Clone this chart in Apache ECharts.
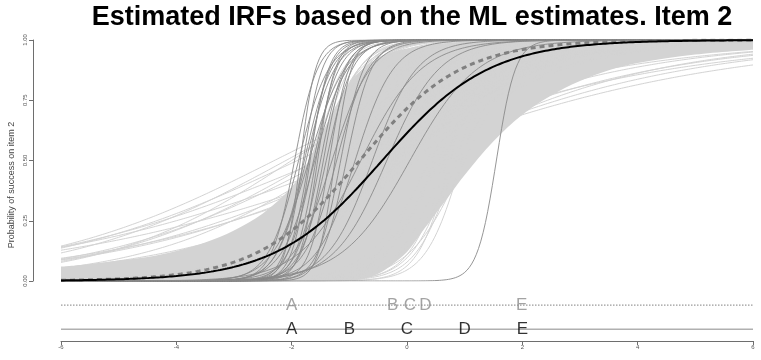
<!DOCTYPE html>
<html>
<head>
<meta charset="utf-8">
<script src="https://cdn.jsdelivr.net/npm/echarts@6/dist/echarts.min.js"></script>
<style>
  html, body { margin: 0; padding: 0; background: #ffffff; }
  #chart { width: 761px; height: 360px; }
</style>
</head>
<body>
<div id="chart"></div>
<script>
// ---- data -------------------------------------------------------------
const thetaTicks = [-6, -4, -2, 0, 2, 4, 6];
const probTicks = [0, 0.25, 0.5, 0.75, 1];

// 2PL item parameters (discrimination a, location b) of the resampled IRFs
const lightSlopes = [
  1.12,0.94,1.35,0.88,1.21,1.05,0.79,1.48,1.02,0.91,
  1.27,1.14,0.85,1.62,0.97,1.09,1.31,0.76,1.18,1.41,
  0.93,1.06,1.24,0.82,1.55,1.01,0.89,1.37,1.16,0.99,
  1.72,0.87,1.11,1.29,0.95,1.44,0.81,1.07,1.20,1.33,
  0.92,1.58,1.03,0.86,1.26,1.15,0.98,1.39,0.78,1.10,
  1.22,0.90,1.47,1.04,0.84,1.30,1.13,0.96,1.66,1.08,
  0.88,1.19,1.36,0.80,1.00,1.25,1.52,0.94,1.12,0.83,
  1.43,1.06,0.91,1.28,1.17,0.75,1.34,1.02,1.60,0.97,
  1.09,1.23,0.86,1.40,1.14,0.92,1.31,1.05,0.79,1.50,
  1.18,0.89,1.27,1.01,1.38,0.95,1.11,1.69,0.84,1.21,
  2.2,2.8,3.4,2.5,3.0,2.1,3.6,2.6,2.9,2.3,3.2,2.4,2.7,3.8,2.0,3.1,2.5,2.8,3.3,2.2,
  0.36,0.42,0.48,0.55,0.39,0.45,0.52,0.60,0.44,0.50,0.58,0.40,0.47,0.62,0.34,
  2.2,2.8,1.9,3.2,2.5,2.0,3.6,2.4,1.8,2.9,2.6,2.1,3.0,2.3
];
const lightLocations = [
  -0.62,-0.41,-0.88,-0.25,-0.70,-0.53,-0.12,-1.02,-0.47,-0.33,
  -0.79,-0.58,-0.18,-1.15,-0.44,-0.66,-0.91,0.05,-0.51,-0.97,
  -0.29,-0.60,-0.74,-0.08,-1.08,-0.38,-0.21,-0.85,-0.64,-0.49,
  -1.22,-0.15,-0.56,-0.82,-0.36,-0.94,0.12,-0.43,-0.68,-0.89,
  -0.27,-1.11,-0.50,-0.02,-0.77,-0.61,-0.40,-0.99,0.18,-0.55,
  -0.72,-0.22,-1.05,-0.46,-0.10,-0.84,-0.63,-0.34,-1.18,-0.57,
  -0.19,-0.67,-0.92,0.08,-0.42,-0.76,-1.12,-0.31,-0.59,-0.05,
  -0.96,-0.52,-0.26,-0.81,-0.65,0.22,-0.87,-0.45,-1.25,-0.37,
  -0.54,-0.73,-0.14,-0.93,-0.60,-0.30,-0.86,-0.48,0.02,-1.06,
  -0.69,-0.23,-0.80,-0.44,-0.95,-0.35,-0.58,-1.30,-0.09,-0.71,
  -1.45,-1.55,-1.62,-1.38,-1.50,-1.30,-1.66,-1.42,-1.25,-1.58,-1.35,-1.20,-1.48,-1.52,-1.15,-1.40,-1.60,-1.32,-1.44,-1.10,
  -0.95,-0.40,-2.30,-1.60,-0.20,-1.90,-2.10,-1.20,-0.70,-1.40,-0.30,-1.50,0.10,-2.00,-0.35,
  0.55,0.80,0.40,0.95,0.65,0.90,0.75,0.35,0.60,0.85,0.45,1.00,0.70,0.50
];

// dense core of the resampled IRFs: lower / upper edge at these abilities
const bandTheta = [-6,-5.5,-5,-4.5,-4,-3.5,-3,-2.5,-2,-1.75,-1.5,-1.25,-1,-0.75,-0.5,-0.25,0,0.25,0.5,0.75,1,1.5,2,2.5,3,3.5,4,5,6];
const bandLower = [0,0,0,0,0,0,0,0,0,0,0,0,0,0.01,0.03,0.07,0.12,0.20,0.28,0.36,0.44,0.58,0.69,0.77,0.83,0.875,0.905,0.94,0.96];
const bandUpper = [0.06,0.07,0.085,0.10,0.125,0.16,0.21,0.28,0.39,0.48,0.60,0.72,0.82,0.885,0.925,0.95,0.965,0.975,0.983,0.988,0.992,0.996,0.998,0.999,1,1,1,1,1];

// darker IRFs
const darkSlopes = [7.5,6.0,5.5,5.0,4.5,6.5,4.0,5.2,3.8,4.8,6.2,3.5,5.8,4.2,7.0,3.2,5.0,4.4,3.0,5.6,4.6,3.6,3.0,2.6,1.9,1.7,2.2,6.0];
const darkLocations = [-1.85,-1.80,-1.70,-1.95,-1.62,-1.55,-1.75,-1.45,-1.88,-1.50,-1.68,-1.60,-1.35,-1.78,-1.25,-1.70,-1.15,-1.40,-1.30,-1.58,-1.05,-1.22,-0.90,-0.60,-0.80,0.05,-0.35,1.55];

// generating IRF (dashed) and ML estimate (black)
const trueSlope = 1.13, trueLocation = -0.82;
const mlSlope = 1.08, mlLocation = -0.43;

// persons: true abilities and their ML estimates
const personLabels = ['A', 'B', 'C', 'D', 'E'];
const trueAbility = [-2, -1, 0, 1, 2];
const estimatedAbility = [-2.0, -0.25, 0.05, 0.32, 1.99];

// ---- helpers ----------------------------------------------------------
const thetaGrid = [];
for (let i = 0; i <= 300; i++) thetaGrid.push(-6 + i * 0.04);

function irf(a, b) {
  return thetaGrid.map(t => [t, 1 / (1 + Math.exp(-a * (t - b)))]);
}

function curveSeries(a, b, style) {
  return {
    type: 'line', xAxisIndex: 0, yAxisIndex: 0,
    data: irf(a, b), showSymbol: false, symbol: 'none',
    silent: true, animation: false,
    lineStyle: style, z: style.z || 2
  };
}

const series = [];
// filled core of the resampled curves: grey up to the upper edge, cleared below the lower edge
series.push({
  type: 'line', xAxisIndex: 0, yAxisIndex: 0, symbol: 'none',
  silent: true, animation: false, smooth: 0.35, z: 1,
  data: bandTheta.map((t, i) => [t, bandUpper[i]]),
  lineStyle: { width: 0, opacity: 0 },
  areaStyle: { color: '#d3d3d3', opacity: 1, origin: 'start' }
});
series.push({
  type: 'line', xAxisIndex: 0, yAxisIndex: 0, symbol: 'none',
  silent: true, animation: false, smooth: 0.35, z: 1,
  data: bandTheta.map((t, i) => [t, bandLower[i]]),
  lineStyle: { width: 0, opacity: 0 },
  areaStyle: { color: '#ffffff', opacity: 1, origin: 'start' }
});
lightSlopes.forEach((a, i) => series.push(curveSeries(a, lightLocations[i], { color: '#d3d3d3', width: 1 })));
darkSlopes.forEach((a, i) => series.push(curveSeries(a, darkLocations[i], { color: '#8a8a8a', width: 0.9, z: 3 })));
series.push(curveSeries(trueSlope, trueLocation, { color: '#808080', width: 3, type: [5, 4], z: 4 }));
series.push(curveSeries(mlSlope, mlLocation, { color: '#000000', width: 2, z: 5 }));

// ability rows below the curves
series.push({
  type: 'line', xAxisIndex: 1, yAxisIndex: 1, silent: true, animation: false,
  symbol: 'none', data: [[-6, -0.1], [6, -0.1]],
  lineStyle: { color: '#9a9a9a', width: 1.2, type: [1.5, 1.5] }
});
series.push({
  type: 'line', xAxisIndex: 1, yAxisIndex: 1, silent: true, animation: false,
  symbol: 'none', data: [[-6, -0.2], [6, -0.2]],
  lineStyle: { color: '#b0b0b0', width: 1.6 }
});
function letterSeries(xs, yRow, color) {
  return {
    type: 'scatter', xAxisIndex: 1, yAxisIndex: 1, silent: true, animation: false,
    symbolSize: 1, itemStyle: { color: 'rgba(0,0,0,0)' }, z: 6,
    data: xs.map((x, i) => ({ value: [x, yRow], name: personLabels[i] })),
    label: {
      show: true, position: 'inside', formatter: p => p.name,
      color: color, fontSize: 17, fontFamily: 'Liberation Sans, Arial, sans-serif'
    }
  };
}
series.push(letterSeries(estimatedAbility, -0.1, '#8c8c8c'));
series.push(letterSeries(trueAbility, -0.2, '#000000'));

// ---- chart ------------------------------------------------------------
const chart = echarts.init(document.getElementById('chart'), null, { renderer: 'canvas' });
chart.setOption({
  animation: false,
  backgroundColor: '#ffffff',
  textStyle: { fontFamily: 'Liberation Sans, Arial, sans-serif' },
  grid: [
    { left: 61, right: 8, top: 40, height: 241 },
    { left: 61, right: 8, top: 281, bottom: 19 }
  ],
  xAxis: [
    { gridIndex: 0, type: 'value', min: -6, max: 6, show: false },
    {
      gridIndex: 1, type: 'value', min: -6, max: 6, interval: 2,
      axisLine: { show: true, onZero: false, lineStyle: { color: '#6e6e6e', width: 1 } },
      axisTick: { show: true, length: 4, lineStyle: { color: '#6e6e6e' } },
      axisLabel: { fontSize: 6, color: '#555', margin: 3, formatter: v => thetaTicks.includes(v) ? String(v) : '' },
      splitLine: { show: false }
    }
  ],
  yAxis: [
    {
      gridIndex: 0, type: 'value', min: 0, max: 1, interval: 0.25, offset: 28,
      axisLine: { show: true, onZero: false, lineStyle: { color: '#6e6e6e', width: 1 } },
      axisTick: { show: true, length: 4, lineStyle: { color: '#6e6e6e' } },
      axisLabel: { rotate: 90, fontSize: 6, color: '#555', margin: 5,
        formatter: v => probTicks.includes(v) ? v.toFixed(2) : '' },
      splitLine: { show: false }
    },
    { gridIndex: 1, type: 'value', min: -0.249, max: 0, show: false }
  ],
  graphic: [
    {
      type: 'text', x: 412, y: 4, silent: true,
      style: {
        text: 'Estimated IRFs based on the ML estimates. Item 2',
        fill: '#000', font: 'bold 27px "Liberation Sans", Arial, sans-serif',
        textAlign: 'center', align: 'center', textVerticalAlign: 'top', verticalAlign: 'top'
      }
    },
    {
      type: 'text', x: 12, y: 185, rotation: Math.PI / 2, silent: true,
      style: {
        text: 'Probability of success on item 2',
        fill: '#444', font: '9px "Liberation Sans", Arial, sans-serif',
        textAlign: 'center', align: 'center', textVerticalAlign: 'middle', verticalAlign: 'middle'
      }
    }
  ],
  series: series
});
</script>
</body>
</html>
